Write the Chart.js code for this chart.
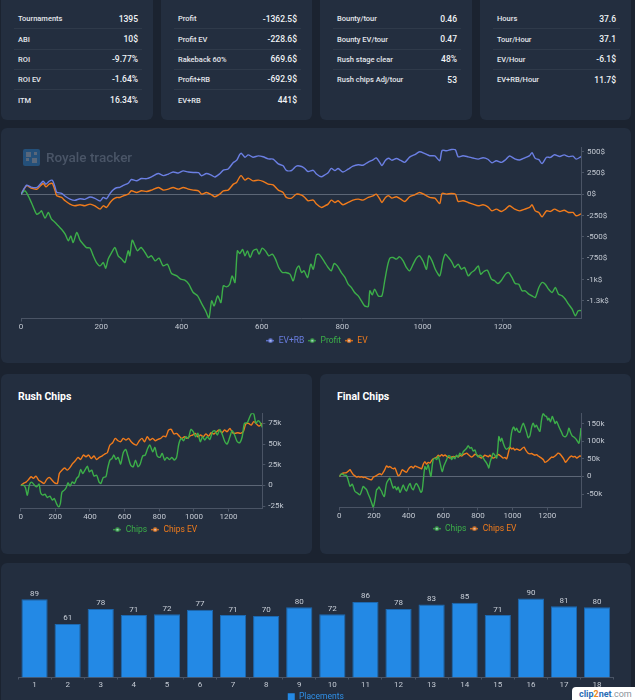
<!DOCTYPE html>
<html>
<head>
<meta charset="utf-8">
<script src="https://cdn.jsdelivr.net/npm/chart.js@4.4.1/dist/chart.umd.min.js"></script>
<style>
  html,body{margin:0;padding:0;}
  body{width:635px;height:700px;overflow:hidden;background:#1b2330;position:relative;font-family:Roboto,"Noto Sans",sans-serif;}
  .card{position:absolute;background:#232e3f;border-radius:6px;}
  .row{position:absolute;left:13px;right:11px;height:20px;display:flex;justify-content:space-between;align-items:center;padding:0 4px 0 4px;box-sizing:border-box;border-bottom:1px solid rgba(255,255,255,0.06);font-weight:500;font-size:7.5px;color:#e4e7ec;}
  .row.last{border-bottom:none;}
  .row .v{font-size:8.5px;color:#f1f3f6;}
  .title{position:absolute;font-weight:700;font-size:10.5px;color:#ffffff;}
  canvas{position:absolute;}
  .wm{position:absolute;left:46px;top:149px;font-size:13.5px;font-weight:500;color:#4a5567;line-height:16px;}
  .logo{position:absolute;left:23px;top:149px;width:17px;height:17px;background:#24507a;border-radius:2px;overflow:hidden;}
  .logo i{position:absolute;background:#59677a;}
  .clip{position:absolute;left:572px;top:687px;width:70px;height:20px;background:#fff;border-radius:4px 0 0 0;font-size:9px;font-weight:700;line-height:14px;padding-left:7px;box-sizing:border-box;color:#2a6db5;}
  .clip .o{color:#f08a1c;} .clip .c{color:#8b939c;font-weight:400;}
</style>
</head>
<body>
<div class="card" style="left:1px;top:-8px;width:152px;height:128px" id="c1"></div>
<div class="card" style="left:161px;top:-8px;width:151px;height:128px" id="c2"></div>
<div class="card" style="left:320px;top:-8px;width:152px;height:128px" id="c3"></div>
<div class="card" style="left:480px;top:-8px;width:151px;height:128px" id="c4"></div>

<div class="card" style="left:1px;top:128px;width:630px;height:235px"></div>
<div class="card" style="left:1px;top:374px;width:311px;height:180px"></div>
<div class="card" style="left:320px;top:374px;width:311px;height:180px"></div>
<div class="card" style="left:1px;top:563px;width:630px;height:150px"></div>

<div class="title" style="left:18px;top:390px">Rush Chips</div>
<div class="title" style="left:337px;top:390px">Final Chips</div>

<canvas id="mainChart" width="615" height="215" style="left:13px;top:140px;width:615px;height:215px"></canvas>
<div class="logo"><i style="left:3px;top:3px;width:5px;height:5px"></i><i style="left:9px;top:9px;width:5px;height:5px"></i><i style="left:3px;top:9px;width:3px;height:3px"></i><i style="left:11px;top:3px;width:3px;height:3px"></i></div>
<div class="wm">Royale tracker</div>

<canvas id="rushChart" width="282" height="139" style="left:8px;top:405px;width:282px;height:139px"></canvas>
<canvas id="finalChart" width="283" height="138" style="left:327px;top:405px;width:283px;height:138px"></canvas>
<canvas id="barChart" width="615" height="136" style="left:8px;top:575px;width:615px;height:136px"></canvas>

<div class="clip">clip<span class="o">2</span>net<span class="c">.com</span></div>

<script>
// ---------- stat cards ----------
const stats1Labels = ["Tournaments","ABI","ROI","ROI EV","ITM"];
const stats1Values = ["1395","10$","-9.77%","-1.64%","16.34%"];
const stats2Labels = ["Profit","Profit EV","Rakeback 60%","Profit+RB","EV+RB"];
const stats2Values = ["-1362.5$","-228.6$","669.6$","-692.9$","441$"];
const stats3Labels = ["Bounty/tour","Bounty EV/tour","Rush stage clear","Rush chips Adj/tour"];
const stats3Values = ["0.46","0.47","48%","53"];
const stats4Labels = ["Hours","Tour/Hour","EV/Hour","EV+RB/Hour"];
const stats4Values = ["37.6","37.1","-6.1$","11.7$"];

// ---------- main chart (cumulative $) ----------
const profitX = [0,10,22,31,39,47,51,60,68,76,
  85,93,101,110,118,124,130,139,147,155,
  163,172,180,188,197,205,211,217,226,234,
  242,251,259,267,271,277,284,290,299,309,
  317,325,334,344,354,365,375,388,398,408,
  418,429,440,450,460,468,475,481,490,498,
  504,512,520,526,533,539,545,552,558,564,
  571,578,587,593,601,609,617,626,634,642,
  651,659,670,678,686,692,699,705,714,722,
  728,736,742,748,757,765,773,780,788,798,
  807,815,823,831,840,848,856,865,869,875,
  881,890,899,906,913,919,927,935,943,952,
  960,968,977,985,993,1002,1010,1016,1024,1032,
  1043,1051,1057,1065,1074,1080,1089,1097,1105,1114,
  1122,1130,1139,1145,1153,1162,1172,1180,1188,1197,
  1207,1215,1223,1231,1240,1248,1256,1265,1273,1281,
  1290,1298,1306,1314,1323,1331,1339,1348,1356,1364,
  1373,1381,1388,1395];
const profitY = [0,41,-57,-154,-233,-213,-194,-280,-213,-291,
  -330,-370,-409,-467,-545,-487,-565,-448,-538,-585,
  -624,-631,-721,-800,-839,-800,-866,-760,-682,-624,
  -721,-760,-800,-663,-721,-538,-604,-663,-624,-682,
  -741,-721,-780,-749,-839,-819,-929,-956,-995,-1007,
  -1054,-1151,-1191,-1281,-1366,-1452,-1249,-1308,-1191,-1269,
  -1073,-1085,-1054,-956,-1034,-663,-694,-647,-721,-663,
  -741,-663,-643,-702,-631,-663,-721,-702,-760,-858,
  -917,-917,-936,-1014,-878,-839,-917,-897,-975,-819,
  -878,-710,-702,-733,-800,-858,-897,-811,-839,-917,
  -975,-1054,-1093,-1151,-1191,-1249,-1308,-1316,-1132,-1179,
  -1112,-1191,-1191,-1014,-839,-749,-741,-760,-733,-780,
  -858,-897,-819,-749,-721,-788,-878,-721,-780,-878,
  -956,-780,-702,-741,-800,-858,-819,-878,-858,-956,
  -917,-890,-839,-936,-905,-890,-995,-1014,-1046,-1007,
  -936,-917,-975,-1046,-1054,-1132,-1132,-1171,-1191,-1210,
  -1093,-1034,-1054,-1112,-1151,-1093,-1171,-1191,-1230,-1288,
  -1347,-1425,-1366,-1363];
const evX = [0,14,25,40,55,62,70,78,85,89,
  101,110,122,134,147,159,172,184,197,205,
  213,222,230,238,246,255,267,275,288,300,
  313,325,342,355,367,379,392,404,417,429,
  442,450,462,475,483,495,504,516,529,537,
  545,549,558,566,578,591,603,616,628,641,
  653,661,674,686,699,707,715,728,736,748,
  757,765,773,782,790,802,815,827,840,852,
  865,877,885,894,899,908,916,924,935,946,
  956,968,981,993,1006,1018,1031,1043,1049,1060,
  1072,1082,1089,1101,1114,1126,1139,1151,1163,1173,
  1184,1197,1207,1217,1230,1242,1255,1267,1273,1281,
  1290,1298,1309,1319,1329,1342,1353,1364,1375,1383,
  1395];
const evY = [0,100,72,61,127,88,119,127,41,-18,
  -37,-76,-115,-135,-123,-135,-115,-135,-174,-135,
  -154,-96,-57,-37,-37,-18,2,41,21,41,
  33,49,80,49,61,80,61,80,61,49,
  41,2,21,-6,-29,2,41,49,119,139,
  205,217,166,190,158,166,151,119,111,49,
  21,-37,-45,2,-10,-37,-76,-68,-115,-154,
  -135,-115,-68,-96,-76,-123,-96,-68,-57,-68,
  -37,-18,2,-57,-96,-37,-18,-45,-29,-57,
  -84,-29,-6,21,-6,-37,-45,-108,10,2,
  10,2,-84,-76,-96,-115,-135,-123,-147,-194,
  -174,-201,-174,-135,-174,-194,-174,-154,-123,-194,
  -213,-264,-194,-201,-174,-201,-187,-213,-213,-252,
  -229];
const evRbY = [0,107,84,80,153,118,153,164,82,25,
  11,-23,-56,-71,-52,-59,-32,-47,-79,-37,
  -52,11,53,77,81,104,130,173,159,185,
  183,205,244,219,237,262,249,274,261,255,
  253,218,243,222,203,240,283,297,373,397,
  467,481,434,462,435,450,440,415,412,357,
  334,280,279,331,326,302,267,281,238,205,
  228,252,303,279,303,262,295,329,346,341,
  378,403,427,372,336,399,422,399,420,397,
  375,436,465,498,477,452,450,393,514,511,
  525,521,439,452,439,425,412,429,411,369,
  394,374,405,449,416,402,428,454,488,421,
  406,359,434,432,464,443,462,442,447,412,
  441];
const mainYTicks = [-1250,-1000,-750,-500,-250,0,250,500];
const mainXTicks = [0,200,400,600,800,1000,1200];

// ---------- rush chips (thousands) ----------
const rushChipsX = [0,15,27,38,50,63,79,92,106,115,
  127,140,154,169,183,194,208,219,229,238,
  252,263,273,285,298,310,323,335,346,358,
  371,385,396,410,423,438,452,463,477,492,
  502,515,527,538,550,563,577,592,606,619,
  635,650,663,677,690,704,719,733,746,762,
  775,788,804,817,831,844,860,873,887,900,
  913,927,940,954,967,983,996,1010,1023,1037,
  1050,1063,1077,1092,1108,1121,1135,1150,1165,1179,
  1192,1208,1221,1235,1250,1265,1279,1292,1308,1323,
  1333,1346,1358,1371,1383,1395];
const rushChipsY = [0,0.4,-2.4,-11.7,0.4,4,0.4,-1.6,1.6,-8.9,
  -11.7,-10.5,-14.5,-12.9,-17.7,-15.7,-22.6,-25.8,-21.8,-8.1,
  -5.6,-2.4,3.2,-0.8,4.4,2.4,8.5,11.3,19.3,14.5,
  18.5,23.4,16.5,18.5,11.3,12.5,4.4,2.4,9.7,10.5,
  20.6,30.6,32.6,36.7,31.4,33.9,25.8,39.5,43.5,35.5,
  24.6,22.6,30.6,22.6,25.8,35.5,36.7,44.7,48.8,40.7,
  45.9,35.5,33.9,38.7,30.6,33.9,31.4,33.9,30.6,33.9,
  50,56.8,54,58.8,56.8,67.7,64.9,58.8,62.9,52.8,
  58.8,54.8,58.8,55.6,64.9,66.1,60.9,67.7,60.9,52.8,
  50,58.8,66.1,60.9,52.8,51.6,58.8,75,75.8,83,
  87,86.2,75,78.2,75.8,70.1];
const rushEvX = [0,15,31,46,60,73,88,104,119,135,
  150,165,181,196,212,223,238,254,269,285,
  300,315,331,346,362,377,392,408,423,438,
  454,469,485,500,515,531,546,562,577,592,
  608,623,638,654,669,685,700,715,731,746,
  762,777,792,808,823,838,854,869,885,900,
  915,931,946,962,977,992,1008,1023,1038,1054,
  1069,1085,1100,1115,1131,1146,1162,1177,1192,1208,
  1223,1238,1254,1269,1285,1300,1315,1331,1346,1362,
  1377,1395];
const rushEvY = [0,2.4,4,7.3,10.5,8.5,11.3,6.4,4.4,2.4,
  7.3,9.7,6.4,3.2,2.4,14.5,18.5,21,18.5,21.8,
  26.6,29.8,33.9,31.4,36.7,34.7,36.7,32.6,35.5,31.4,
  33.9,35.5,37.9,39.5,48.8,51.6,56.8,54,52.8,56.8,
  54.8,56.8,52.8,50,48.8,54,56.8,52.8,58.8,54.8,
  56.8,54,55.6,56.8,59.6,58.8,66.9,67.7,62.1,62.9,
  59.6,56.8,58.8,56.8,59.6,60.9,62.9,58.8,60.9,58.8,
  62.1,59.6,63.7,62.1,64.9,66.9,63.7,66.9,64.9,68.9,
  63.7,62.9,63.7,62.9,64.9,74.2,75,72.9,77,74.2,
  71.7,75];
const rushYTicks = [-25,0,25,50,75];

// ---------- final chips (thousands) ----------
const finalChipsX = [0,13,27,42,52,62,75,90,104,119,
  129,138,148,158,167,177,187,196,206,215,
  222,229,237,244,252,260,267,273,283,292,
  302,312,321,331,340,350,360,369,379,388,
  398,408,417,427,437,446,458,471,478,485,
  494,503,513,521,529,535,542,552,562,571,
  583,594,604,619,628,638,648,657,667,676,
  686,696,706,715,725,735,744,754,763,773,
  783,792,802,812,821,831,840,850,858,863,
  870,880,888,898,908,915,921,930,938,946,
  956,965,975,985,990,998,1008,1015,1023,1032,
  1042,1052,1062,1071,1081,1090,1100,1110,1119,1129,
  1138,1148,1158,1167,1177,1186,1196,1203,1210,1219,
  1229,1238,1246,1254,1264,1273,1283,1292,1306,1316,
  1325,1334,1344,1354,1363,1369,1377,1383,1389,1395];
const finalChipsY = [0,7.5,4,2,-12,-28,-22,-42,-47,-52,
  -40,-28,-33,-38,-50,-61,-75,-87,-66,-38,
  -35,-30,-37,-42,-52,-57,-35,-19,-10,-5,
  -20,-33,-28,-38,-30,-45,-35,-24,-36,-41,
  -28,-20,-32,-38,-25,-20,-30,-45,-40,-10,
  28,20,33,15,0,25,47,52,48,57,
  35,14,30,47,58,58,48,55,50,60,
  55,66,60,70,75,80,87,80,82,72,
  75,62,55,60,58,52,45,38,30,24,
  40,55,66,60,52,80,113,100,108,95,
  82,77,80,85,110,132,140,130,137,128,
  125,140,151,140,125,110,115,140,151,140,
  145,135,128,160,179,172,170,160,165,155,
  170,160,150,156,145,135,125,115,113,120,
  137,125,115,112,108,104,98,94,110,137];
const finalEvX = [0,10,17,30,42,52,62,71,81,90,
  100,110,119,129,139,148,158,168,177,187,
  196,206,216,225,235,244,254,263,273,283,
  292,302,312,321,331,340,350,363,375,388,
  398,408,417,427,437,446,456,465,475,485,
  494,504,513,523,533,542,552,562,571,581,
  591,600,610,620,629,638,648,658,667,677,
  687,696,706,716,725,735,744,754,763,773,
  783,792,802,812,821,831,840,850,860,869,
  879,888,898,908,917,927,937,946,956,966,
  975,985,994,1004,1013,1023,1033,1042,1052,1062,
  1067,1077,1090,1100,1110,1120,1129,1139,1148,1158,
  1167,1177,1187,1196,1206,1215,1225,1235,1245,1254,
  1263,1273,1283,1292,1300,1306,1316,1325,1331,1340,
  1350,1360,1369,1379,1388,1395];
const finalEvY = [0,6,9,10,11,15,19,12,5,2,
  -2,0,-2,-1,-3,-2,-5,-7,-9,-9,
  -2,0,3,6,7.5,5,12,20,30,26,
  28,24,22,24,12,2,5,19,15,12,
  20,26,28,24,30,28,26,24,22,35,
  42,35,40,38,45,50,52,55,60,57,
  62,58,61,57,55,52,55,57,55,58,
  55,60,58,62,64,66,62,58,55,58,
  63,61,58,55,52,56,60,58,56,60,
  55,52,54,58,62,60,56,52,54,50,
  65,83,78,80,75,78,76,74,78,82,
  83,74,66,64,65,62,60,62,58,55,
  52,48,40,42,46,50,55,54,58,62,
  66,64,58,52,45,40,46,52,55,58,
  55,57,52,55,58,57];
const finalYTicks = [-50,0,50,100,150];

// ---------- placements ----------
const placeLabels = ["1","2","3","4","5","6","7","8","9","10","11","12","13","14","15","16","17","18"];
const placeCounts = [89,61,78,71,72,77,71,70,80,72,86,78,83,85,71,90,81,80];

// ---------- build stat cards ----------
function fillCard(id, labels, values){
  const card = document.getElementById(id);
  labels.forEach((l,i)=>{
    const r = document.createElement('div');
    r.className = 'row' + (i === labels.length-1 ? ' last' : '');
    r.style.top = (17.3 + i*20.2) + 'px';
    const a = document.createElement('span'); a.textContent = l;
    const b = document.createElement('span'); b.className = 'v'; b.textContent = values[i];
    r.appendChild(a); r.appendChild(b); card.appendChild(r);
  });
}
fillCard('c1', stats1Labels, stats1Values);
fillCard('c2', stats2Labels, stats2Values);
fillCard('c3', stats3Labels, stats3Values);
fillCard('c4', stats4Labels, stats4Values);

// ---------- chart helpers ----------
Chart.defaults.font.family = "Roboto, 'Noto Sans', sans-serif";
Chart.defaults.color = '#c3c9d2';
const BLUE = '#6b7fe3', GREEN = '#3cae49', ORANGE = '#f07b1c';
const AXIS = '#4a5465', ZERO = '#5c6676', TICK = '#c3c9d2';

function marker(color){
  const c = document.createElement('canvas');
  c.width = 8; c.height = 5;
  const g = c.getContext('2d');
  g.strokeStyle = color; g.lineWidth = 1.2;
  g.beginPath(); g.moveTo(0,2.5); g.lineTo(8,2.5); g.stroke();
  g.beginPath(); g.arc(4,2.5,1.6,0,Math.PI*2);
  g.fillStyle = '#c9d3ea'; g.fill(); g.stroke();
  return c;
}
function pts(xs, ys){ return xs.map((x,i)=>({x:x, y:ys[i]})); }
function lineDs(label, xs, ys, color){
  return {label, data: pts(xs, ys), borderColor: color, backgroundColor: color,
    borderWidth: 1.4, pointRadius: 0, pointStyle: marker(color), tension: 0.25, fill: false};
}
const coloredLabels = (chart) => Chart.defaults.plugins.legend.labels.generateLabels(chart)
  .map(l => Object.assign(l, {fontColor: chart.data.datasets[l.datasetIndex].borderColor}));

function lineOptions(o){
  return {
    responsive: false, animation: false, events: [],
    layout: {padding: o.padding},
    plugins: {
      tooltip: {enabled: false},
      legend: {position: 'bottom', labels: {usePointStyle: true, pointStyleWidth: 8, padding: 4,
        font: {size: 8.5}, generateLabels: coloredLabels}}
    },
    scales: {
      x: {type: 'linear', min: 0, max: 1395,
        afterBuildTicks: s => { s.ticks = mainXTicks.map(v => ({value: v})); },
        afterFit: s => { s.height = o.xh; },
        ticks: {font: {size: 8}, padding: 1, maxRotation: 0, autoSkip: false, color: TICK,
          callback: v => String(v)},
        grid: {drawOnChartArea: false, drawTicks: true, tickLength: 3, color: AXIS},
        border: {display: true, color: AXIS}},
      y: {type: 'linear', position: 'right', min: o.min, max: o.max,
        afterBuildTicks: s => { s.ticks = o.ticks.map(v => ({value: v})); },
        afterFit: s => { s.width = o.yw; },
        ticks: {font: {size: 8}, padding: 3, callback: o.fmt, color: TICK},
        grid: {drawOnChartArea: true, tickLength: 3, tickColor: AXIS,
          color: c => (c.tick && c.tick.value === 0) ? ZERO : 'rgba(0,0,0,0)'},
        border: {display: true, color: AXIS}}
    }
  };
}

// main chart
new Chart(document.getElementById('mainChart'), {
  type: 'line',
  data: {datasets: [
    lineDs('EV+RB', evX, evRbY, BLUE),
    lineDs('Profit', profitX, profitY, GREEN),
    lineDs('EV', evX, evY, ORANGE)
  ]},
  options: lineOptions({padding: {left: 8, right: 15, top: 7, bottom: 0}, xh: 14, yw: 32,
    min: -1456, max: 545, ticks: mainYTicks,
    fmt: v => Math.abs(v) >= 1000 ? parseFloat((v/1000).toFixed(1)) + 'k$' : v + '$'})
});

// rush chips
new Chart(document.getElementById('rushChart'), {
  type: 'line',
  data: {datasets: [
    lineDs('Chips', rushChipsX, rushChipsY, GREEN),
    lineDs('Chips EV', rushEvX, rushEvY, ORANGE)
  ]},
  options: lineOptions({padding: {left: 12.7, right: 0, top: 8.3, bottom: 0}, xh: 13, yw: 27.7,
    min: -27.8, max: 87.1, ticks: rushYTicks,
    fmt: v => v === 0 ? '0' : v + 'k'})
});

// final chips
new Chart(document.getElementById('finalChart'), {
  type: 'line',
  data: {datasets: [
    lineDs('Chips', finalChipsX, finalChipsY, GREEN),
    lineDs('Chips EV', finalEvX, finalEvY, ORANGE)
  ]},
  options: lineOptions({padding: {left: 12.3, right: 0, top: 8.3, bottom: 0}, xh: 13, yw: 29,
    min: -88, max: 179, ticks: finalYTicks,
    fmt: v => v === 0 ? '0' : v + 'k'})
});

// placements bar chart
const barLabelsPlugin = {
  id: 'barLabels',
  afterDatasetsDraw(chart){
    const ctx = chart.ctx;
    const meta = chart.getDatasetMeta(0);
    ctx.save();
    ctx.font = "8px Roboto, 'Noto Sans', sans-serif";
    ctx.fillStyle = '#c9cfd8';
    ctx.textAlign = 'center';
    ctx.textBaseline = 'bottom';
    meta.data.forEach((bar, i) => {
      ctx.fillText(String(chart.data.datasets[0].data[i]), bar.x, bar.y - 1.5);
    });
    ctx.restore();
  }
};
new Chart(document.getElementById('barChart'), {
  type: 'bar',
  data: {labels: placeLabels, datasets: [{
    label: 'Placements', data: placeCounts,
    backgroundColor: '#2389e5', borderColor: '#1c68b0', borderWidth: 1,
    categoryPercentage: 0.88, barPercentage: 0.9
  }]},
  options: {
    responsive: false, animation: false, events: [],
    layout: {padding: {left: 10, right: 9.4, top: 14.6, bottom: 0}},
    plugins: {
      tooltip: {enabled: false},
      legend: {position: 'bottom', labels: {boxWidth: 7, boxHeight: 7, padding: 3, font: {size: 8.5},
        generateLabels: (chart) => Chart.defaults.plugins.legend.labels.generateLabels(chart)
          .map(l => Object.assign(l, {fontColor: '#2f8fe6', strokeStyle: '#2389e5', lineWidth: 0}))}}
    },
    scales: {
      x: {afterFit: s => { s.height = 12; },
        ticks: {font: {size: 8}, padding: 1, color: TICK, maxRotation: 0, autoSkip: false},
        grid: {display: true, drawOnChartArea: false, drawTicks: true, tickLength: 2, color: AXIS},
        border: {display: true, color: AXIS}},
      y: {display: false, min: 0, max: 100}
    }
  },
  plugins: [barLabelsPlugin]
});
</script>
</body>
</html>
